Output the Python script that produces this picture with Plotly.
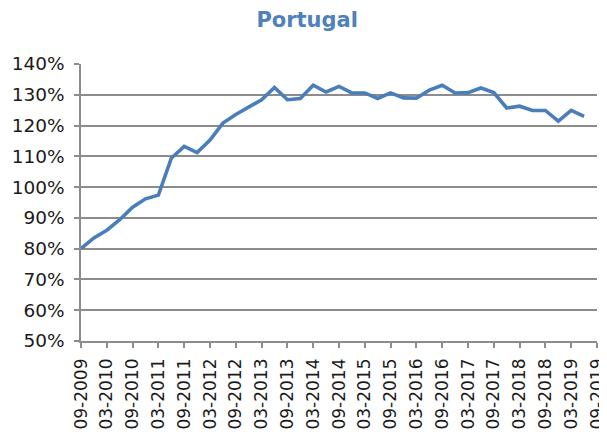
import plotly.graph_objects as go

title = "Portugal"

tick_labels = ["09-2009", "03-2010", "09-2010", "03-2011", "09-2011", "03-2012",
               "09-2012", "03-2013", "09-2013", "03-2014", "09-2014", "03-2015",
               "09-2015", "03-2016", "09-2016", "03-2017", "09-2017", "03-2018",
               "09-2018", "03-2019", "09-2019"]

# quarterly observations starting 09-2009 (ratio, 1.0 = 100%)
values = [0.800, 0.835, 0.860, 0.894, 0.935, 0.962, 0.974, 1.094, 1.132, 1.112,
          1.153, 1.208, 1.236, 1.260, 1.284, 1.324, 1.284, 1.288, 1.331, 1.309,
          1.327, 1.306, 1.306, 1.288, 1.306, 1.290, 1.289, 1.315, 1.331, 1.306,
          1.307, 1.322, 1.307, 1.257, 1.263, 1.249, 1.249, 1.214, 1.249, 1.230]

x_index = list(range(len(values)))
tick_positions = [2 * k for k in range(len(tick_labels))]

line_color = "#4a7ebb"
grid_color = "#8c8c8c"
font_family = "DejaVu Sans, Verdana, sans-serif"

fig = go.Figure()
fig.add_trace(go.Scatter(
    x=x_index, y=values, mode="lines",
    line=dict(color=line_color, width=3.6),
    hoverinfo="skip", showlegend=False,
))

# page body has an 8px default margin, so the figure is sized to fit the window
fig.update_layout(
    width=599, height=424,
    margin=dict(l=73, r=10, t=56, b=91, autoexpand=False),
    paper_bgcolor="white", plot_bgcolor="white",
    font=dict(family=font_family, color="#1a1a1a"),
    title=dict(text="<b>" + title + "</b>", xref="container", x=0.4995, xanchor="center",
               yref="container", y=0.972, yanchor="middle",
               font=dict(size=21, color="#4f81bd", family=font_family)),
)

fig.update_xaxes(
    range=[0, 40], tickmode="array", tickvals=tick_positions, ticktext=tick_labels,
    tickangle=-90, tickfont=dict(size=17), automargin=False, ticklabelstandoff=4,
    showgrid=False, zeroline=False,
    showline=True, linecolor=grid_color, linewidth=1.5,
    ticks="outside", ticklen=5, tickcolor=grid_color, tickwidth=1.5,
)

fig.update_yaxes(
    range=[0.5, 1.4], dtick=0.1, tick0=0.5, tickformat=".0%",
    tickfont=dict(size=18.5), automargin=False, ticklabelstandoff=6,
    showgrid=True, gridcolor=grid_color, gridwidth=1.5, zeroline=False,
    showline=True, linecolor=grid_color, linewidth=1.5,
    ticks="outside", ticklen=5, tickcolor=grid_color, tickwidth=1.5,
)

fig.write_html("out.html")
